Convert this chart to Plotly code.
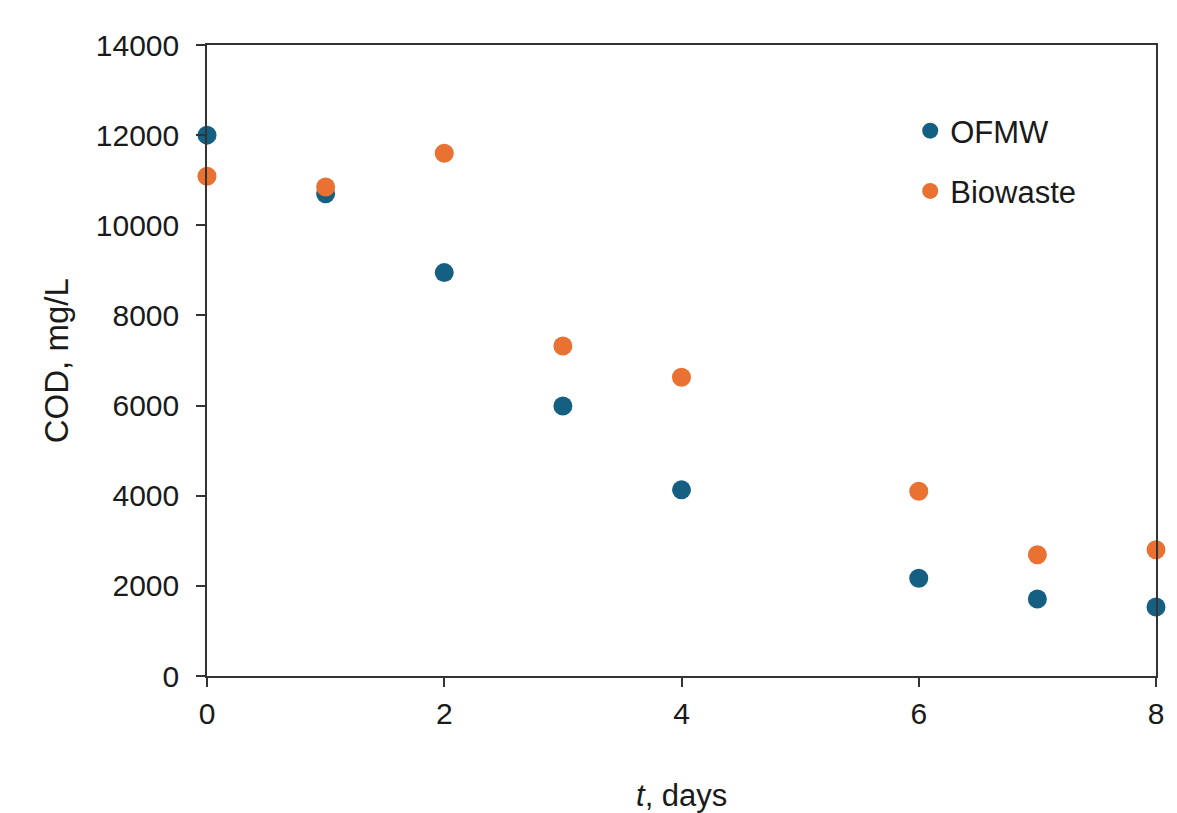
import plotly.graph_objects as go

days = [0, 1, 2, 3, 4, 6, 7, 8]
ofmw = [12000, 10700, 8950, 5990, 4130, 2170, 1710, 1530]
biowaste = [11090, 10850, 11600, 7320, 6630, 4100, 2690, 2800]

x_ticks = [0, 2, 4, 6, 8]
y_ticks = [0, 2000, 4000, 6000, 8000, 10000, 12000, 14000]

BLUE = "#156082"
ORANGE = "#E97132"
AXIS = "#333333"
FONT = "Liberation Sans, Arial, sans-serif"

fig = go.Figure()
fig.add_trace(go.Scatter(x=days, y=ofmw, mode="markers", name="OFMW",
                         legendgroup="a",
                         marker=dict(color=BLUE, size=19), cliponaxis=False))
fig.add_trace(go.Scatter(x=days, y=biowaste, mode="markers", name="Biowaste",
                         legendgroup="b",
                         marker=dict(color=ORANGE, size=19), cliponaxis=False))

fig.update_layout(
    width=1170, height=813,
    margin=dict(l=207, r=6, t=45, b=137),
    paper_bgcolor="white", plot_bgcolor="white",
    font=dict(family=FONT, size=30, color="#1a1a1a"),
    showlegend=True,
    legend=dict(x=0.741, y=0.9065, xanchor="left", yanchor="top",
                bgcolor="rgba(0,0,0,0)", tracegroupgap=17,
                font=dict(size=31), itemsizing="trace"),
    xaxis=dict(range=[0, 8], tickvals=x_ticks, ticktext=[str(v) for v in x_ticks],
               showgrid=False, zeroline=False, showline=True, mirror=True,
               linecolor=AXIS, linewidth=1.5, ticks="outside", ticklen=9,
               tickwidth=1.5, tickcolor=AXIS, ticklabelstandoff=1,
               ticklabeloverflow="allow"),
    yaxis=dict(range=[0, 14000], tickvals=y_ticks, ticktext=[str(v) for v in y_ticks],
               showgrid=False, zeroline=False, showline=True, mirror=True,
               linecolor=AXIS, linewidth=1.5, ticks="outside", ticklen=9,
               tickwidth=1.5, tickcolor=AXIS, ticklabelstandoff=11,
               ticklabeloverflow="allow"),
    annotations=[
        dict(text="COD, mg/L", xref="paper", yref="paper", x=-0.159, y=0.499,
             xanchor="center", yanchor="middle", textangle=-90, showarrow=False,
             font=dict(size=33)),
        dict(text="<i>t</i>, days", xref="paper", yref="paper", x=0.5, y=-0.19,
             xanchor="center", yanchor="middle", showarrow=False,
             font=dict(size=31)),
    ],
)

fig.write_html("out.html",
               config={"displayModeBar": False},
               post_script="document.body.style.margin='0px';"
                           "document.body.style.overflow='hidden';")
